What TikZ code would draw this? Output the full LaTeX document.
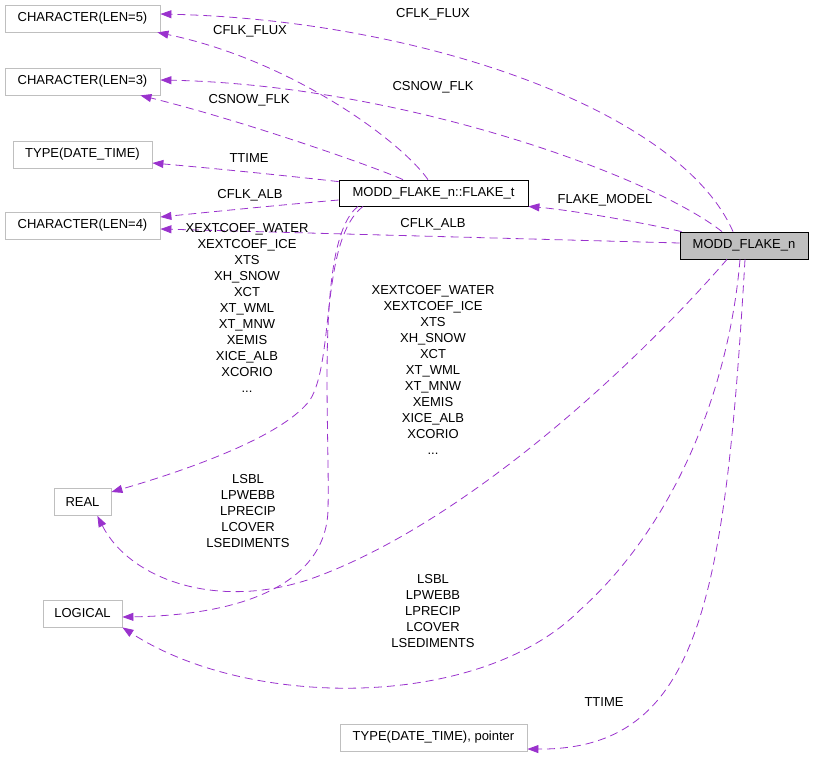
\documentclass[tikz,border=0pt]{standalone}
\usepackage{fontspec}
\setmainfont{Liberation Sans}
\usetikzlibrary{arrows.meta}
\tikzstyle{graphPlane} = [x = 1pt, y = -1pt, every node/.style={font=\fontsize{13}{16}\selectfont}]
\definecolor{edgeColor}{HTML}{9A32CD}
\definecolor{boxColor}{HTML}{BFBFBF}
\tikzstyle{typeBox} = [draw=boxColor, line width=0.8pt, minimum height=27pt, inner sep=0pt]
\tikzstyle{moduleBox} = [typeBox, draw=black, fill=boxColor]
\tikzstyle{derivedBox} = [typeBox, draw=black, fill=white, minimum height=26pt]
\tikzstyle{memberEdge} = [color=edgeColor, line width=0.8pt, dash pattern=on 8pt off 5pt, -{Triangle[length=11pt, width=8pt]}]
\tikzstyle{edgeLabel} = [align=center, inner sep=0pt]
\newcommand{\memberLabel}[3]{\node [edgeLabel] (#1) at (#2) {#3};}

\begin{document}
\begin{tikzpicture}[graphPlane]
    \useasboundingbox (0,0) rectangle (813,756);
    % types
    \node [typeBox, minimum width=155pt] (charFive) at (82.5,18.5) {CHARACTER(LEN=5)};
    \node [typeBox, minimum width=155pt] (charThree) at (82.5,81.5) {CHARACTER(LEN=3)};
    \node [typeBox, minimum width=139pt] (dateTime) at (82.5,154.5) {TYPE(DATE\_TIME)};
    \node [typeBox, minimum width=155pt] (charFour) at (82.5,225.5) {CHARACTER(LEN=4)};
    \node [typeBox, minimum width=57pt] (real) at (82.5,502) {REAL};
    \node [typeBox, minimum width=79pt] (logical) at (82.5,613.5) {LOGICAL};
    \node [typeBox, minimum width=187pt] (datePtr) at (433.5,737.5) {TYPE(DATE\_TIME), pointer};
    \node [derivedBox, minimum width=189pt] (flakeT) at (433.5,193) {MODD\_FLAKE\_n::FLAKE\_t};
    \node [moduleBox, minimum width=128pt] (modd) at (744,245.5) {MODD\_FLAKE\_n};
    % members of MODD_FLAKE_n
    \draw [memberEdge] ([xshift=-11pt]modd.north) .. controls (680,110) and (420,20) .. ([yshift=4.5pt]charFive.east);
    \draw [memberEdge] ([xshift=-22pt]modd.north) .. controls (650,175) and (400,85) .. ([yshift=1.5pt]charThree.east);
    \draw [memberEdge] ([xshift=2pt]modd.north west) .. controls (640,222) and (570,210) .. (flakeT.south east);
    \draw [memberEdge] ([yshift=2.5pt]modd.west) -- ([yshift=-3.5pt]charFour.east);
    \draw [memberEdge] ([xshift=-17pt]modd.south) .. controls (640,360) and (470,520) .. (316,577)
        .. controls (220,612) and (130,580) .. ([xshift=-14pt]real.south east);
    \draw [memberEdge] ([xshift=-4pt]modd.south) .. controls (730,380) and (680,520) .. (580,610)
        .. controls (480,710) and (250,710) .. (logical.south east);
    \draw [memberEdge] ([xshift=1pt]modd.south) .. controls (725,600) and (700,750) .. ([yshift=-11.5pt]datePtr.east);
    % members of FLAKE_t
    \draw [memberEdge] ([xshift=-5.5pt]flakeT.north) .. controls (400,140) and (290,60) .. ([xshift=-3pt]charFive.south east);
    \draw [memberEdge] ([xshift=-30.5pt]flakeT.north) .. controls (370,165) and (240,120) .. ([xshift=-20pt]charThree.south east);
    \draw [memberEdge] ([yshift=-2pt]flakeT.north west) .. controls (280,175) and (210,168) .. ([yshift=-8.5pt]dateTime.east);
    \draw [memberEdge] ([yshift=-7pt]flakeT.west) .. controls (280,205) and (210,212) .. ([yshift=8.5pt]charFour.east);
    \draw [memberEdge] ([xshift=-70.5pt]flakeT.south) .. controls (320,240) and (335,360) .. (310,400)
        .. controls (280,440) and (170,475) .. ([yshift=10pt]real.east);
    \draw [memberEdge] ([xshift=-75.5pt]flakeT.south) .. controls (315,240) and (330,420) .. (328,510)
        .. controls (326,580) and (250,615) .. ([yshift=-3.5pt]logical.east);
    % labels
    \memberLabel{lblFluxTop}{433,14}{CFLK\_FLUX}
    \memberLabel{lblSnowTop}{433,87}{CSNOW\_FLK}
    \memberLabel{lblModel}{605,200}{FLAKE\_MODEL}
    \memberLabel{lblAlbTop}{433,224}{CFLK\_ALB}
    \memberLabel{lblRealRight}{433,370}{XEXTCOEF\_WATER\\XEXTCOEF\_ICE\\XTS\\XH\_SNOW\\XCT\\XT\_WML\\XT\_MNW\\XEMIS\\XICE\_ALB\\XCORIO\\...}
    \memberLabel{lblLogRight}{433,611}{LSBL\\LPWEBB\\LPRECIP\\LCOVER\\LSEDIMENTS}
    \memberLabel{lblTimeLow}{604,702}{TTIME}
    \memberLabel{lblFluxLeft}{250,31}{CFLK\_FLUX}
    \memberLabel{lblSnowLeft}{249,100}{CSNOW\_FLK}
    \memberLabel{lblTimeLeft}{249,158}{TTIME}
    \memberLabel{lblAlbLeft}{250,195}{CFLK\_ALB}
    \memberLabel{lblRealLeft}{247,308}{XEXTCOEF\_WATER\\XEXTCOEF\_ICE\\XTS\\XH\_SNOW\\XCT\\XT\_WML\\XT\_MNW\\XEMIS\\XICE\_ALB\\XCORIO\\...}
    \memberLabel{lblLogLeft}{248,511}{LSBL\\LPWEBB\\LPRECIP\\LCOVER\\LSEDIMENTS}
\end{tikzpicture}
\end{document}
